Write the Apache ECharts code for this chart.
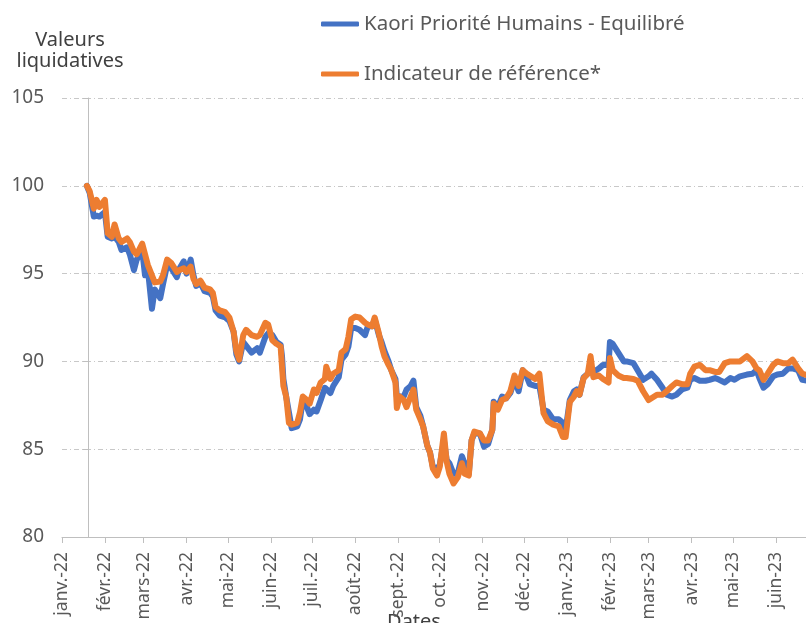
<!DOCTYPE html>
<html>
<head>
<meta charset="utf-8">
<script src="https://cdn.jsdelivr.net/npm/echarts@6/dist/echarts.min.js"></script>
<style>
html,body{margin:0;padding:0;background:#fff;overflow:hidden;}
#chart{width:806px;height:623px;}
</style>
</head>
<body>
<div id="chart"></div>
<script>
// ---- data ----
const seriesNames = ['Kaori Priorité Humains - Equilibré', 'Indicateur de référence*'];

const monthStarts = ['2022-01-01','2022-02-01','2022-03-01','2022-04-01','2022-05-01','2022-06-01','2022-07-01','2022-08-01','2022-09-01','2022-10-01','2022-11-01','2022-12-01','2023-01-01','2023-02-01','2023-03-01','2023-04-01','2023-05-01','2023-06-01'];
const monthLabels = ['janv.-22','févr.-22','mars-22','avr.-22','mai-22','juin-22','juil.-22','août-22','sept.-22','oct.-22','nov.-22','déc.-22','janv.-23','févr.-23','mars-23','avr.-23','mai-23','juin-23'];

const yTicks = [80, 85, 90, 95, 100, 105];

const dates = ['2022-01-19','2022-01-21','2022-01-24','2022-01-26','2022-01-28','2022-02-01','2022-02-03','2022-02-06','2022-02-08','2022-02-11',
'2022-02-13','2022-02-17','2022-02-19','2022-02-22','2022-02-24','2022-02-28','2022-03-02','2022-03-04','2022-03-07','2022-03-09',
'2022-03-13','2022-03-15','2022-03-18','2022-03-21','2022-03-25','2022-03-27','2022-03-30','2022-04-01','2022-04-04','2022-04-06',
'2022-04-08','2022-04-11','2022-04-14','2022-04-18','2022-04-20','2022-04-22','2022-04-25','2022-04-29','2022-05-02','2022-05-05',
'2022-05-07','2022-05-09','2022-05-12','2022-05-14','2022-05-18','2022-05-22','2022-05-24',
'2022-05-28','2022-05-30','2022-06-02','2022-06-05','2022-06-08','2022-06-09','2022-06-10','2022-06-12','2022-06-14','2022-06-16',
'2022-06-20','2022-06-22','2022-06-24','2022-06-27','2022-06-29','2022-07-02','2022-07-04','2022-07-07','2022-07-10','2022-07-11',
'2022-07-14','2022-07-16','2022-07-20','2022-07-22','2022-07-25','2022-07-27','2022-07-29','2022-08-01','2022-08-04','2022-08-08',
'2022-08-10','2022-08-13','2022-08-15','2022-08-18','2022-08-20','2022-08-22','2022-08-25','2022-08-27','2022-08-30','2022-08-31',
'2022-09-02','2022-09-05','2022-09-07','2022-09-10','2022-09-12','2022-09-14','2022-09-17','2022-09-19','2022-09-22','2022-09-24',
'2022-09-26','2022-09-29','2022-10-01','2022-10-04','2022-10-06',
'2022-10-08','2022-10-11','2022-10-14','2022-10-17','2022-10-19','2022-10-22','2022-10-24','2022-10-26','2022-10-30','2022-11-02',
'2022-11-05','2022-11-08','2022-11-09','2022-11-12','2022-11-15','2022-11-18','2022-11-21','2022-11-24','2022-11-27','2022-11-30',
'2022-12-03','2022-12-05','2022-12-09','2022-12-12','2022-12-15','2022-12-18','2022-12-22','2022-12-26','2022-12-29','2022-12-31',
'2023-01-03','2023-01-06','2023-01-08','2023-01-10','2023-01-13','2023-01-16','2023-01-18','2023-01-20','2023-01-24','2023-01-27',
'2023-01-31','2023-02-01','2023-02-03','2023-02-07','2023-02-11',
'2023-02-13','2023-02-18','2023-02-21','2023-02-25','2023-03-01','2023-03-03','2023-03-07','2023-03-11','2023-03-14','2023-03-18',
'2023-03-21','2023-03-25','2023-03-29','2023-03-31','2023-04-03','2023-04-07','2023-04-11','2023-04-14','2023-04-18','2023-04-21',
'2023-04-25','2023-04-29','2023-05-02','2023-05-06','2023-05-11','2023-05-15','2023-05-18','2023-05-20','2023-05-23','2023-05-26',
'2023-05-30','2023-06-02','2023-06-06','2023-06-10','2023-06-13','2023-06-17','2023-06-20','2023-06-24'];

const fund = [100.0,99.6,98.25,98.3,98.25,98.5,97.1,97.0,97.1,96.8,
96.35,96.5,96.1,95.2,95.8,96.3,94.9,95.3,93.0,94.1,
93.6,94.4,95.5,95.3,94.8,95.3,95.7,95.0,95.8,94.9,
94.3,94.5,94.0,93.9,93.7,92.9,92.6,92.5,92.3,91.7,
90.4,90.0,91.1,90.9,90.5,90.75,90.5,
91.4,91.6,91.5,91.1,90.95,90.3,89.0,88.0,87.1,86.2,
86.3,86.7,87.8,87.4,87.0,87.25,87.15,87.8,88.5,88.6,
88.2,88.6,89.1,90.1,90.4,90.85,91.9,91.9,91.8,91.5,
92.0,92.0,92.4,91.5,91.1,90.6,90.0,89.5,89.0,88.0,
88.0,88.0,88.4,88.6,88.9,87.4,86.9,86.3,85.2,84.8,
84.0,83.9,84.1,85.5,84.4,
84.2,83.6,83.6,84.6,84.2,83.6,85.5,85.9,85.9,85.15,
85.3,86.1,87.7,87.4,88.0,87.9,88.2,88.95,88.3,89.5,
89.1,88.7,88.6,88.6,87.25,87.15,86.7,86.7,86.5,86.1,
87.8,88.3,88.4,88.1,89.1,89.3,89.5,89.4,89.6,89.8,
89.8,91.1,91.0,90.5,90.0,
90.0,89.9,89.5,88.95,89.15,89.3,88.95,88.5,88.1,88.0,
88.1,88.4,88.5,88.95,89.05,88.9,88.9,88.95,89.05,88.95,
88.8,89.05,88.95,89.15,89.25,89.3,89.5,89.05,88.5,88.7,
89.15,89.25,89.3,89.6,89.6,89.5,88.95,88.9];

const benchmark = [100.0,99.7,98.7,99.2,98.8,99.2,97.3,97.1,97.8,97.0,
96.8,97.0,96.8,96.25,96.1,96.7,96.1,95.5,94.9,94.5,
94.55,94.9,95.8,95.6,95.1,95.2,95.3,95.1,95.4,94.7,
94.4,94.6,94.2,94.1,93.9,93.1,92.9,92.8,92.5,91.7,
90.6,90.1,91.5,91.8,91.5,91.4,91.5,
92.2,92.1,91.2,91.0,90.85,89.7,88.6,88.0,86.5,86.4,
86.5,87.1,88.0,87.8,87.6,88.4,88.2,88.8,89.0,89.7,
89.0,89.3,89.5,90.5,90.7,91.4,92.4,92.55,92.5,92.2,
92.1,92.0,92.5,91.6,90.85,90.3,89.8,89.5,88.8,87.35,
88.0,87.8,87.4,88.0,88.4,87.25,86.7,86.3,85.2,84.8,
83.9,83.5,84.0,85.9,84.3,
83.6,83.05,83.4,84.2,83.6,83.5,85.5,86.0,85.9,85.5,
85.5,86.1,87.6,87.25,87.8,87.9,88.3,89.2,88.6,89.5,
89.3,89.2,89.0,89.3,87.05,86.6,86.4,86.3,85.7,85.7,
87.7,88.0,88.3,88.1,89.05,89.3,90.3,89.1,89.2,89.0,
88.8,90.2,89.5,89.2,89.05,
89.05,89.0,88.9,88.3,87.8,87.9,88.1,88.1,88.3,88.6,
88.8,88.7,88.7,89.3,89.7,89.8,89.5,89.5,89.4,89.4,
89.9,90.0,90.0,90.0,90.3,90.0,89.6,89.5,88.95,89.3,
89.8,90.0,89.9,89.9,90.1,89.6,89.3,89.2];

// ---- chart ----
const DAY = 86400000;
// day number counted from 2022-01-01 (UTC arithmetic, no DST effects)
const base = Date.UTC(2022, 0, 1);
function dayNum(s){ const p = s.split('-').map(Number); return (Date.UTC(p[0], p[1]-1, p[2]) - base) / DAY; }
const xMin = 0;
const xMax = 537.7;
const monthDays = monthStarts.map(dayNum);
const labelOf = {};
monthDays.forEach((t, i) => { labelOf[t] = monthLabels[i]; });

const gray = '#595959';
const fontMain = 'Noto Sans';

const chart = echarts.init(document.getElementById('chart'), null, {renderer: 'canvas', width: 806, height: 623});
chart.setOption({
  animation: false,
  backgroundColor: '#ffffff',
  color: ['#4472C4', '#ED7D31'],
  grid: {left: 62, top: 98, width: 744, height: 439, containLabel: false, outerBoundsMode: 'none'},
  legend: {
    orient: 'vertical',
    left: 316, top: 7,
    padding: 5,
    itemWidth: 38, itemHeight: 5, itemGap: 26,
    icon: 'roundRect',
    textStyle: {fontFamily: fontMain, fontSize: 20.5, color: gray, lineHeight: 24},
    data: seriesNames
  },
  graphic: [
    {type: 'text', x: 70, y: 40, style: {text: 'Valeurs', fontFamily: fontMain, fontSize: 20, fill: '#404040', align: 'center', verticalAlign: 'middle'}},
    {type: 'text', x: 70, y: 61, style: {text: 'liquidatives', fontFamily: fontMain, fontSize: 20, fill: '#404040', align: 'center', verticalAlign: 'middle'}}
  ],
  xAxis: {
    type: 'value', min: xMin, max: xMax,
    name: 'Dates', nameLocation: 'middle', nameGap: 75, nameMoveOverlap: false,
    nameTextStyle: {fontFamily: fontMain, fontSize: 20, color: '#404040', verticalAlign: 'top', padding: [0, 40, 0, 0]},
    axisLine: {show: true, lineStyle: {color: '#bfbfbf', width: 1}},
    axisTick: {show: true, length: 6, customValues: monthDays, lineStyle: {color: '#bfbfbf'}},
    axisLabel: {
      customValues: monthDays, rotate: 90, margin: 15, hideOverlap: false,
      fontFamily: fontMain, fontSize: 17.5, color: gray,
      formatter: v => labelOf[v] || ''
    },
    splitLine: {show: false}
  },
  yAxis: {
    type: 'value', min: yTicks[0], max: yTicks[yTicks.length-1], interval: 5,
    offset: -26,
    axisLine: {show: true, lineStyle: {color: '#bfbfbf', width: 1}},
    axisTick: {show: true, length: 5, lineStyle: {color: '#bfbfbf'}},
    axisLabel: {margin: 44, fontFamily: fontMain, fontSize: 19, color: gray},
    splitLine: {show: true, lineStyle: {color: '#c8c8c8', width: 1, type: [5, 3, 1, 3]}}
  },
  series: [
    {name: seriesNames[0], type: 'line', showSymbol: false, symbol: 'none',
     data: dates.map((d, i) => [dayNum(d), fund[i]]),
     lineStyle: {width: 6, color: '#4472C4', cap: 'round', join: 'round'}, clip: true},
    {name: seriesNames[1], type: 'line', showSymbol: false, symbol: 'none',
     data: dates.map((d, i) => [dayNum(d), benchmark[i]]),
     lineStyle: {width: 6, color: '#ED7D31', cap: 'round', join: 'round'}, clip: true}
  ]
});
</script>
</body>
</html>
